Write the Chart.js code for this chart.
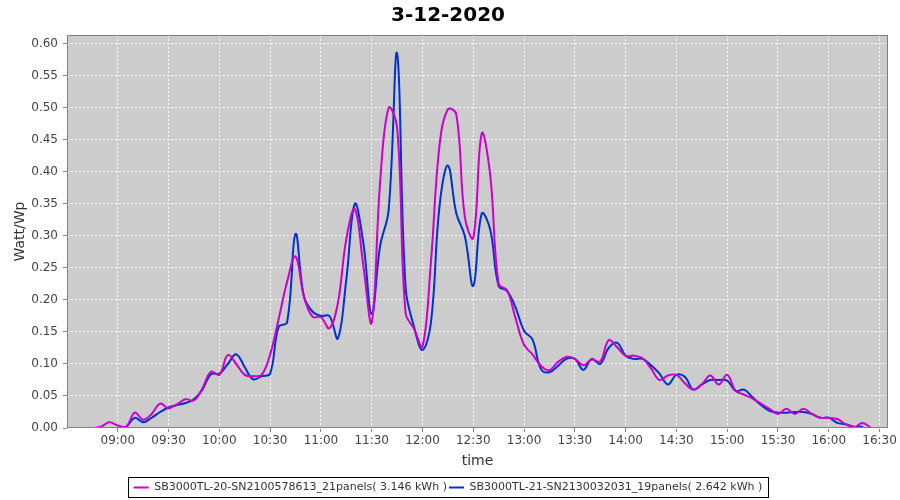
<!DOCTYPE html>
<html>
<head>
<meta charset="utf-8">
<title>3-12-2020</title>
<script src="https://cdn.jsdelivr.net/npm/chart.js@4/dist/chart.umd.min.js"></script>
<style>
	html, body { margin: 0; padding: 0; background: #ffffff; overflow: hidden; }
	#wrap { width: 900px; height: 500px; }
</style>
</head>
<body>
<div id="wrap"><canvas id="powerChart" width="900" height="500"></canvas></div>
<script>
// 측정 시각 (5분 간격)
const times = [
	'08:40', '08:45', '08:50', '08:55', '09:00', '09:05', '09:10', '09:15', '09:20', '09:25',
	'09:30', '09:35', '09:40', '09:45', '09:50', '09:55', '10:00', '10:05', '10:10', '10:15',
	'10:20', '10:25', '10:30', '10:35', '10:40', '10:45', '10:50', '10:55', '11:00', '11:05',
	'11:10', '11:15', '11:20', '11:25', '11:30', '11:35', '11:40', '11:45', '11:50', '11:55',
	'12:00', '12:05', '12:10', '12:15', '12:20', '12:25', '12:30', '12:35', '12:40', '12:45',
	'12:50', '12:55', '13:00', '13:05', '13:10', '13:15', '13:20', '13:25', '13:30', '13:35',
	'13:40', '13:45', '13:50', '13:55', '14:00', '14:05', '14:10', '14:15', '14:20', '14:25',
	'14:30', '14:35', '14:40', '14:45', '14:50', '14:55', '15:00', '15:05', '15:10', '15:15',
	'15:20', '15:25', '15:30', '15:35', '15:40', '15:45', '15:50', '15:55', '16:00', '16:05',
	'16:10', '16:15', '16:20', '16:25'
];

const seriesNames = [
	'SB3000TL-20-SN2100578613_21panels( 3.146 kWh )',
	'SB3000TL-21-SN2130032031_19panels( 2.642 kWh )'
];

// Watt/Wp
const inverter20 = [
	0.000, 0.000, 0.002, 0.009, 0.004, 0.002, 0.024, 0.013, 0.022, 0.038,
	0.031, 0.037, 0.045, 0.043, 0.062, 0.088, 0.083, 0.114, 0.100, 0.083,
	0.081, 0.083, 0.115, 0.170, 0.228, 0.268, 0.205, 0.174, 0.173, 0.156,
	0.195, 0.295, 0.342, 0.255, 0.165, 0.385, 0.500, 0.470, 0.180, 0.155,
	0.127, 0.260, 0.440, 0.498, 0.490, 0.330, 0.297, 0.460, 0.395, 0.225,
	0.215, 0.171, 0.130, 0.115, 0.097, 0.090, 0.103, 0.111, 0.108, 0.098,
	0.107, 0.104, 0.137, 0.126, 0.113, 0.113, 0.109, 0.093, 0.075, 0.082,
	0.083, 0.070, 0.060, 0.068, 0.082, 0.068, 0.083, 0.058, 0.052, 0.046,
	0.038, 0.030, 0.022, 0.030, 0.022, 0.030, 0.022, 0.016, 0.016, 0.014,
	0.006, 0.001, 0.008, 0.000
];

const inverter21 = [
	0.000, 0.000, 0.000, 0.000, 0.000, 0.002, 0.016, 0.009, 0.016, 0.025,
	0.032, 0.036, 0.039, 0.045, 0.060, 0.084, 0.085, 0.100, 0.115, 0.095,
	0.076, 0.081, 0.085, 0.158, 0.165, 0.303, 0.205, 0.182, 0.175, 0.175,
	0.140, 0.232, 0.350, 0.290, 0.178, 0.285, 0.340, 0.585, 0.220, 0.158,
	0.122, 0.165, 0.345, 0.410, 0.335, 0.300, 0.222, 0.335, 0.310, 0.222,
	0.214, 0.188, 0.152, 0.138, 0.092, 0.087, 0.097, 0.108, 0.108, 0.091,
	0.108, 0.100, 0.125, 0.133, 0.113, 0.108, 0.108, 0.098, 0.085, 0.068,
	0.083, 0.080, 0.060, 0.068, 0.075, 0.075, 0.074, 0.058, 0.060, 0.048,
	0.036, 0.027, 0.024, 0.024, 0.025, 0.025, 0.022, 0.016, 0.016, 0.008,
	0.006, 0.002, 0.002, null
];

// 축 눈금
const xTickLabels = ['09:00', '09:30', '10:00', '10:30', '11:00', '11:30', '12:00', '12:30',
	'13:00', '13:30', '14:00', '14:30', '15:00', '15:30', '16:00', '16:30'];
const yTickValues = [0.00, 0.05, 0.10, 0.15, 0.20, 0.25, 0.30, 0.35, 0.40, 0.45, 0.50, 0.55, 0.60];

function toMinutes(hhmm) {
	let parts = hhmm.split(':');
	return parseInt(parts[0], 10) * 60 + parseInt(parts[1], 10);
}

function toHHMM(minutes) {
	let h = Math.floor(minutes / 60);
	let m = Math.round(minutes % 60);
	return (h < 10 ? '0' : '') + h + ':' + (m < 10 ? '0' : '') + m;
}

function toPoints(values) {
	let points = [];
	for (let i = 0; i < times.length; i++) {
		points.push({ x: toMinutes(times[i]), y: values[i] });
	}
	return points;
}

let ctx = document.getElementById('powerChart').getContext('2d');
let powerChart = new Chart(ctx, {
	type: 'line',
	data: {
		datasets: [{
			label: seriesNames[0],
			data: toPoints(inverter20),
			borderColor: '#cc00cc',
			backgroundColor: '#cc00cc',
			borderWidth: 2,
			pointRadius: 0.8,
			pointBorderWidth: 0,
			tension: 0.4
		}, {
			label: seriesNames[1],
			data: toPoints(inverter21),
			borderColor: '#0033cc',
			backgroundColor: '#0033cc',
			borderWidth: 2,
			pointRadius: 0.8,
			pointBorderWidth: 0,
			tension: 0.4
		}]
	},
	options: {
		responsive: false,
		animation: false,
		layout: {
			padding: { left: 8, right: 12, top: 0, bottom: -3 }
		},
		scales: {
			x: {
				type: 'linear',
				min: toMinutes('08:30'),
				max: toMinutes('16:35'),
				afterBuildTicks(scale) {
					scale.ticks = xTickLabels.map(t => ({ value: toMinutes(t) }));
				},
				afterFit(scale) {
					scale.height = 52;
				},
				ticks: {
					color: '#444444',
					font: { family: 'DejaVu Sans', size: 12 },
					padding: 2,
					maxRotation: 0,
					autoSkip: false,
					callback: function(value) { return toHHMM(value); }
				},
				grid: {
					color: '#ffffff',
					tickColor: '#888888',
					tickLength: 4,
					tickBorderDash: []
				},
				border: { display: false, dash: [2, 2] },
				title: {
					display: true,
					text: 'time',
					color: '#333333',
					font: { family: 'DejaVu Sans', size: 14 },
					padding: { top: 2, bottom: 10 }
				}
			},
			y: {
				min: 0,
				max: 0.614,
				afterBuildTicks(scale) {
					scale.ticks = yTickValues.map(v => ({ value: v }));
				},
				afterFit(scale) {
					scale.width = 59;
				},
				ticks: {
					color: '#444444',
					font: { family: 'DejaVu Sans', size: 12 },
					padding: 5,
					callback: function(value) { return value.toFixed(2); }
				},
				grid: {
					color: '#ffffff',
					tickColor: '#888888',
					tickLength: 4,
					tickBorderDash: []
				},
				border: { display: false, dash: [2, 2] },
				title: {
					display: true,
					text: 'Watt/Wp',
					color: '#333333',
					font: { family: 'DejaVu Sans', size: 14 },
					padding: { top: 4, bottom: 4 }
				}
			}
		},
		plugins: {
			title: {
				display: true,
				text: '3-12-2020',
				color: '#000000',
				font: { family: 'DejaVu Sans', size: 20, weight: 'bold' },
				padding: { top: 4, bottom: 7 }
			},
			legend: {
				display: true,
				position: 'bottom',
				labels: {
					usePointStyle: true,
					pointStyle: 'line',
					pointStyleWidth: 15,
					padding: 2,
					color: '#333333',
					font: { family: 'DejaVu Sans', size: 11 },
					generateLabels(chart) {
						let items = Chart.defaults.plugins.legend.labels.generateLabels(chart);
						items.forEach(item => {
							let ds = chart.data.datasets[item.datasetIndex];
							item.lineWidth = 2;
							item.strokeStyle = ds.borderColor;
							item.fillStyle = ds.borderColor;
							item.pointStyle = 'line';
						});
						return items;
					}
				}
			},
			tooltip: { enabled: false }
		}
	},
	plugins: [
		{
			id: 'plotBackground',
			beforeDraw(chart) {
				const { ctx, chartArea: { left, top, width, height } } = chart;
				ctx.save();
				ctx.fillStyle = '#cccccc';
				ctx.fillRect(left, top, width, height);
				ctx.restore();
			},
			afterDatasetsDraw(chart) {
				const { ctx, chartArea: { left, top, width, height } } = chart;
				ctx.save();
				ctx.strokeStyle = '#808080';
				ctx.lineWidth = 1;
				ctx.strokeRect(left + 0.5, top + 0.5, width - 1, height - 1);
				ctx.restore();
			}
		},
		{
			id: 'legendFrame',
			afterDraw(chart) {
				const boxes = chart.legend.legendHitBoxes;
				if (!boxes || !boxes.length) return;
				const first = boxes[0];
				const last = boxes[boxes.length - 1];
				const { ctx } = chart;
				let x1 = Math.round(first.left) - 6;
				let x2 = Math.round(last.left + last.width) + 6;
				let y1 = Math.round(first.top) - 5;
				let y2 = Math.round(first.top + first.height) + 4;
				ctx.save();
				ctx.strokeStyle = '#000000';
				ctx.lineWidth = 1;
				ctx.strokeRect(x1 + 0.5, y1 + 0.5, x2 - x1, y2 - y1);
				ctx.restore();
			}
		}
	]
});
</script>
</body>
</html>
